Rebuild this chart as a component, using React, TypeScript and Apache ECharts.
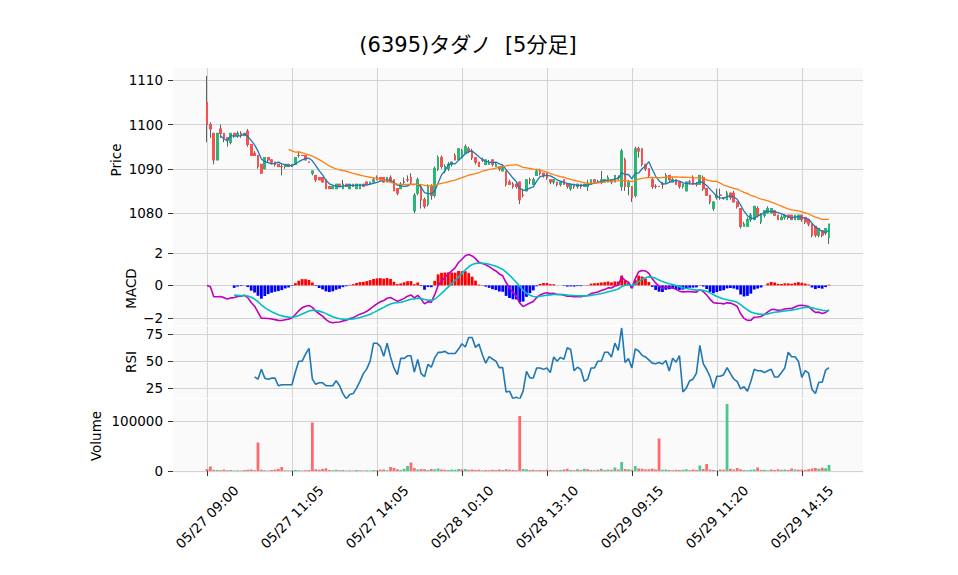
import React, { useEffect, useRef } from "react";
import * as echarts from "echarts";

// ---------- data ----------
const TITLE = "(6395)タダノ  [5分足]";

const sessionDays = ["05/27", "05/27", "05/28", "05/28", "05/29", "05/29"];
const sessionStarts = ["09:00", "12:30", "09:00", "12:30", "09:00", "12:25"];
const sessionBars = [31, 30, 31, 30, 31, 31];

const openP = [
  1105, 1100, 1098, 1092, 1099, 1098, 1097, 1096, 1098, 1097.5,
  1098, 1097.5, 1098.5, 1095.5, 1093.5, 1093, 1091, 1090, 1092.5, 1092,
  1091.5, 1091, 1090.5, 1090.5, 1091, 1090.5, 1091, 1093, 1093, 1093,
  1091.5, 1089, 1088.5, 1088, 1088, 1087.5, 1086, 1085.5, 1085.5, 1086.5,
  1085.5, 1086.5, 1085.5, 1086.5, 1085.5, 1085.5, 1086.5, 1087, 1086.5, 1087,
  1088, 1088, 1088, 1087, 1088, 1087.5, 1085.5, 1085.5, 1087, 1087.5,
  1088, 1080.5, 1084.5, 1086, 1083, 1082, 1086, 1084, 1090, 1092.5,
  1089.5, 1090, 1091, 1093, 1092, 1092.5, 1093.5, 1094.5, 1094, 1092.5,
  1091.5, 1092, 1091, 1091, 1092, 1090.5, 1090.5, 1089.5, 1089.5, 1087,
  1086.5, 1086.5, 1087, 1084, 1085, 1087.5, 1086.5, 1088.5, 1089.5, 1089,
  1089, 1087.5, 1087, 1087, 1086.5, 1087.5, 1086.5, 1085.5, 1086.5, 1086,
  1086.5, 1086, 1086, 1086.5, 1087.5, 1087, 1087, 1087, 1087, 1087.5,
  1087, 1088, 1086, 1092, 1086, 1086, 1084, 1094.5, 1094.5, 1091,
  1090, 1087.5, 1086, 1086, 1086.5, 1087, 1088.5, 1087, 1087.5, 1087,
  1086, 1085, 1087, 1088, 1086.5, 1086.5, 1088, 1085.5, 1084, 1081,
  1083.5, 1084, 1083.5, 1083, 1084.5, 1084.5, 1082.5, 1081, 1077, 1077,
  1078.5, 1078.5, 1081, 1078, 1079.5, 1080, 1080, 1080.5, 1079.5, 1078.5,
  1079, 1079.5, 1079.5, 1078.5, 1078.5, 1079.5, 1079, 1078.5, 1077.5, 1077,
  1075, 1076, 1075.5, 1074.5,
];

const highP = [
  1111, 1100.5, 1098, 1098, 1100, 1098, 1097, 1098, 1098, 1098.5,
  1098.5, 1098, 1099, 1095.5, 1094, 1093, 1091, 1092.5, 1092.5, 1092,
  1091.5, 1091, 1091, 1091, 1091, 1091, 1092.5, 1094, 1093, 1093,
  1091.5, 1089.5, 1088.5, 1088, 1088, 1087.5, 1086, 1086, 1086.5, 1086.5,
  1087.5, 1086.5, 1086.5, 1086.5, 1086.5, 1086.5, 1086.5, 1087, 1087, 1088,
  1088.5, 1088, 1088, 1088, 1088.5, 1087.5, 1085.5, 1087, 1088, 1088.5,
  1089, 1084.5, 1088, 1086.5, 1083.5, 1086.5, 1086.5, 1090.5, 1093, 1093,
  1091, 1091.5, 1091.5, 1093.5, 1094.5, 1094.5, 1095.5, 1095, 1094.5, 1092.5,
  1091.5, 1092.5, 1092, 1092, 1092, 1091.5, 1090.5, 1091, 1089.5, 1087.5,
  1087, 1086.5, 1087, 1085.5, 1087.5, 1088, 1088, 1090, 1090, 1089,
  1089, 1087.5, 1087.5, 1087, 1087, 1087.5, 1086.5, 1086.5, 1086.5, 1086.5,
  1086.5, 1086.5, 1087.5, 1087.5, 1087.5, 1087.5, 1089.5, 1087.5, 1088.5, 1087.5,
  1088.5, 1088.5, 1094.5, 1092.5, 1087.5, 1086, 1095, 1095, 1094.5, 1091,
  1090, 1088, 1086.5, 1086, 1087, 1089, 1088.5, 1088, 1087.5, 1087,
  1086.5, 1087, 1087.5, 1088.5, 1087, 1088.5, 1088.5, 1085.5, 1084, 1082.5,
  1085.5, 1085.5, 1083.5, 1085, 1084.5, 1085, 1082.5, 1081, 1078, 1079,
  1080, 1081.5, 1081.5, 1080, 1080.5, 1081.5, 1081, 1080.5, 1079.5, 1079.5,
  1079.5, 1079.5, 1079.5, 1079.5, 1079.5, 1079.5, 1079, 1078.5, 1077.5, 1077,
  1076.5, 1076, 1076.5, 1077.5,
];

const lowP = [
  1096, 1097, 1091, 1092, 1097, 1096, 1095, 1095.5, 1097, 1097,
  1097, 1097.5, 1095, 1093, 1093, 1090, 1089, 1090, 1091.5, 1091,
  1090.5, 1090.5, 1088.5, 1090, 1090.5, 1090.5, 1091, 1092.5, 1093, 1092,
  1091.5, 1088.5, 1087, 1087.5, 1087, 1085.5, 1085.5, 1085.5, 1085.5, 1086,
  1085.5, 1086, 1085.5, 1086, 1085.5, 1085.5, 1086, 1086.5, 1086.5, 1087,
  1087.5, 1087.5, 1087, 1087, 1087, 1085, 1084, 1085.5, 1086.5, 1087,
  1086.5, 1080, 1084, 1081, 1081, 1081.5, 1083, 1083.5, 1089.5, 1090,
  1089, 1089.5, 1090.5, 1092, 1092, 1092.5, 1093.5, 1093.5, 1092, 1091,
  1090.5, 1091.5, 1091, 1091, 1090.5, 1090.5, 1089.5, 1089.5, 1086, 1086.5,
  1085.5, 1085.5, 1082, 1083.5, 1085, 1086.5, 1086.5, 1088.5, 1088.5, 1088,
  1087.5, 1086.5, 1086.5, 1086, 1086, 1086.5, 1085.5, 1085, 1085.5, 1085.5,
  1085.5, 1086, 1085, 1086.5, 1087, 1087, 1086.5, 1087, 1087, 1086.5,
  1087, 1087.5, 1085, 1085, 1084, 1082.5, 1083.5, 1092.5, 1090.5, 1089.5,
  1088, 1085.5, 1085.5, 1086, 1085.5, 1086.5, 1087, 1087, 1086.5, 1085.5,
  1085.5, 1085, 1086.5, 1086.5, 1086, 1086.5, 1085, 1084, 1082, 1080.5,
  1083, 1083, 1083, 1083, 1083, 1082.5, 1081, 1076.5, 1077, 1077,
  1078, 1078.5, 1079, 1077.5, 1079, 1080, 1080, 1079.5, 1078.5, 1078.5,
  1078.5, 1078.5, 1078.5, 1078.5, 1078.5, 1078, 1077.5, 1077, 1074.5, 1074.5,
  1074.5, 1074.5, 1075, 1073,
];

const closeP = [
  1100, 1099, 1092, 1098, 1098, 1097, 1096.5, 1098, 1097.5, 1098,
  1097.5, 1098, 1095.5, 1093, 1093, 1090.5, 1089, 1092.5, 1092, 1091.5,
  1091, 1090.5, 1090.5, 1091, 1090.5, 1091, 1092.5, 1093, 1093, 1092,
  1091.5, 1089.5, 1087.5, 1087.5, 1087, 1085.5, 1085.5, 1086, 1086.5, 1086,
  1086.5, 1086, 1086.5, 1086, 1086.5, 1086.5, 1086, 1086.5, 1087, 1087.5,
  1087.5, 1087.5, 1087, 1088, 1087, 1085, 1084.5, 1086.5, 1087, 1087.5,
  1087, 1084, 1087.5, 1083, 1081.5, 1086, 1084, 1090, 1092.5, 1090.5,
  1090.5, 1091, 1091.5, 1092, 1094.5, 1094, 1095, 1094, 1092.5, 1091.5,
  1090.5, 1092, 1092, 1091.5, 1091, 1091, 1090, 1090.5, 1086.5, 1086.5,
  1086, 1086, 1083, 1084, 1087.5, 1087.5, 1087.5, 1089.5, 1089, 1088.5,
  1088, 1087, 1087.5, 1086.5, 1087, 1086.5, 1086, 1086.5, 1086, 1086.5,
  1086, 1086.5, 1086.5, 1087.5, 1087, 1087, 1087.5, 1087.5, 1088, 1087,
  1088.5, 1088, 1094, 1086, 1087, 1083.5, 1094.5, 1094, 1091, 1090,
  1088.5, 1086, 1086, 1086, 1086.5, 1088.5, 1087.5, 1087.5, 1086.5, 1086,
  1086.5, 1087, 1087, 1086.5, 1086.5, 1088.5, 1085.5, 1084, 1082.5, 1082.5,
  1084, 1084, 1083.5, 1084.5, 1083.5, 1082.5, 1081.5, 1077, 1077.5, 1078.5,
  1079.5, 1081.5, 1079.5, 1079.5, 1080.5, 1081, 1081, 1079.5, 1078.5, 1079,
  1079.5, 1079, 1078.5, 1079.5, 1079.5, 1078.5, 1078, 1077.5, 1075, 1075,
  1076.5, 1075, 1076.5, 1077.5,
];

const volumeP = [
  4000, 9000, 2500, 2000, 1500, 3000, 1500, 2000, 1000, 1500,
  1000, 2000, 2500, 3000, 1500, 57000, 2500, 1500, 1000, 2000,
  3000, 4000, 8000, 1500, 1000, 1500, 2000, 1500, 1000, 1500,
  2000, 97000, 3500, 2500, 4000, 5500, 2000, 1500, 2500, 1500,
  2000, 1000, 1500, 1000, 2000, 1500, 1000, 1500, 1000, 2000,
  1500, 2500, 3000, 1500, 8000, 6000, 3500, 2000, 4500, 10000,
  17000, 6000, 3000, 4000, 3500, 2000, 4000, 3500, 5000, 3000,
  2500, 2000, 3000, 2500, 4000, 3500, 4000, 2500, 3000, 2000,
  2500, 1500, 2000, 1500, 2500, 2000, 3000, 2000, 3500, 2500,
  2000, 1500, 110000, 4000, 3500, 2000, 2500, 1500, 2000, 1500,
  2500, 2000, 1500, 1500, 2000, 3000, 4500, 2000, 1500, 3500,
  2000, 4500, 3500, 2000, 1500, 2500, 4500, 2000, 3000, 2500,
  7000, 3000, 18000, 4000, 3500, 2500, 10000, 5000, 4500, 3000,
  3500, 4500, 3000, 65000, 2500, 3000, 2000, 1500, 2500, 2000,
  2500, 3500, 1500, 3000, 2000, 11000, 4000, 14000, 3000, 2000,
  1500, 3000, 2500, 134000, 4500, 3000, 6000, 3500, 2000, 1500,
  2500, 3000, 7000, 2000, 2500, 1500, 3000, 2000, 3500, 2500,
  3000, 2000, 5000, 3000, 2500, 3000, 2000, 3500, 5000, 6000,
  4500, 6500, 5500, 12000,
];

const priceTicks = [1080, 1090, 1100, 1110];
const macdTicks = [-2, 0, 2];
const rsiTicks = [25, 50, 75];
const volumeTicks = [0, 100000];

// ---------- styling ----------
const FONT = '"DejaVu Sans", "Liberation Sans", sans-serif';
const TITLE_FONT = '"DejaVu Sans", "Noto Sans CJK JP", sans-serif';
const UP = "#26b874";
const DOWN = "#fc5050";
const WICK = "#606060";
const VUP = "#4dc790";
const VDOWN = "#fd6b6c";
const GRID_C = "#d3d3d3";
const FACE = "#fafafa";
const PAD = 10;
const TICK_EVERY = 25;

// ---------- helpers ----------
function buildCategories(): string[] {
  const out: string[] = [];
  sessionDays.forEach((d, s) => {
    const [h, m] = sessionStarts[s].split(":").map(Number);
    let t = h * 60 + m;
    for (let k = 0; k < sessionBars[s]; k++) {
      const hh = String(Math.floor(t / 60)).padStart(2, "0");
      const mm = String(t % 60).padStart(2, "0");
      out.push(`${d} ${hh}:${mm}`);
      t += 5;
    }
  });
  return out;
}

function rolling(arr: number[], n: number): (number | null)[] {
  return arr.map((_, i) => {
    if (i < n - 1) return null;
    let s = 0;
    for (let j = i - n + 1; j <= i; j++) s += arr[j];
    return s / n;
  });
}

function ema(arr: number[], span: number): number[] {
  const a = 2 / (span + 1);
  const out: number[] = [];
  let prev = arr[0];
  arr.forEach((v, i) => {
    prev = i === 0 ? v : prev + a * (v - prev);
    out.push(prev);
  });
  return out;
}

function rsiCalc(c: number[], n: number): (number | null)[] {
  const out: (number | null)[] = c.map(() => null);
  for (let i = n; i < c.length; i++) {
    let g = 0;
    let l = 0;
    for (let j = i - n + 1; j <= i; j++) {
      const d = c[j] - c[j - 1];
      if (d > 0) g += d;
      else l -= d;
    }
    out[i] = l === 0 ? 100 : 100 - 100 / (1 + g / l);
  }
  return out;
}

function buildOption() {
  const N = closeP.length;
  const cats = buildCategories();
  const xCats = [
    ...Array.from({ length: PAD }, (_, i) => `pre${i}`),
    ...cats,
    ...Array.from({ length: PAD }, (_, i) => `post${i}`),
  ];
  const isTick = (idx: number) => {
    const k = idx - PAD;
    return k >= 0 && k < N && k % TICK_EVERY === 0;
  };

  const ma5 = rolling(closeP, 5);
  const ma25 = rolling(closeP, 25);
  const e12 = ema(closeP, 12);
  const e26 = ema(closeP, 26);
  const macd = e12.map((v, i) => v - e26[i]);
  const signal = ema(macd, 9);
  const rsi = rsiCalc(closeP, 14);

  const pairs = (arr: (number | null)[], from = 0) =>
    arr
      .map((v, i) => (v == null || i < from ? null : [i + PAD, v]))
      .filter((p) => p !== null);

  const panels = [
    { top: 68, height: 184 },
    { top: 252, height: 73 },
    { top: 326, height: 72 },
    { top: 399, height: 74 },
  ];

  const xAxis = panels.map((_, gi) => {
    const bottom = gi === panels.length - 1;
    return {
      type: "category",
      gridIndex: gi,
      data: xCats,
      boundaryGap: false,
      axisLine: { show: false },
      axisTick: {
        show: bottom,
        interval: (i: number) => isTick(i),
        length: 5,
        lineStyle: { color: "#333" },
      },
      axisLabel: bottom
        ? {
            show: true,
            interval: (i: number) => isTick(i),
            rotate: 45,
            align: "center",
            verticalAlign: "middle",
            margin: 44,
            fontSize: 13.5,
            fontFamily: FONT,
            color: "#000",
          }
        : { show: false },
      splitLine: {
        show: true,
        interval: (i: number) => isTick(i),
        lineStyle: { color: GRID_C, width: 1 },
      },
    };
  });

  const yAx = (
    gi: number,
    min: number,
    max: number,
    ticks: number[],
    name: string,
    nameGap: number,
    fmt: (v: number) => string
  ) => ({
    type: "value",
    gridIndex: gi,
    min,
    max,
    axisLine: { show: false },
    axisTick: { show: true, customValues: ticks, length: 5, lineStyle: { color: "#333" } },
    axisLabel: {
      customValues: ticks,
      formatter: fmt,
      margin: 10,
      fontSize: 13.5,
      lineHeight: 12,
      fontFamily: FONT,
      color: "#000",
    },
    splitLine: { show: true, lineStyle: { color: GRID_C, width: 1 } },
    name,
    nameLocation: "middle",
    nameGap,
    nameRotate: 90,
    nameMoveOverlap: false,
    nameTextStyle: { fontSize: 13.5, fontFamily: FONT, color: "#000" },
  });

  const plain = (v: number) => String(v);
  const minus = (v: number) => (v < 0 ? "\u2212" + Math.abs(v) : String(v));

  const candleColor = (i: number) => (closeP[i] > openP[i] ? UP : DOWN);

  const candlesWick = closeP.map((c, i) => ({
    value: [i + PAD, openP[i], c, lowP[i], highP[i]],
    itemStyle: {
      color: candleColor(i),
      color0: candleColor(i),
      borderColor: WICK,
      borderColor0: WICK,
      borderWidth: 1,
    },
  }));
  const candlesBody = closeP.map((c, i) => ({
    value: [i + PAD, openP[i], c, Math.min(openP[i], c), Math.max(openP[i], c)],
    itemStyle: {
      color: candleColor(i),
      color0: candleColor(i),
      borderColor: candleColor(i),
      borderColor0: candleColor(i),
      borderWidth: 1,
    },
  }));

  const vol = volumeP.map((v, i) => ({
    value: [i + PAD, v],
    itemStyle: { color: i > 0 && closeP[i] > closeP[i - 1] ? VUP : VDOWN },
  }));

  const hist = macd
    .map((m, i) =>
      i < 8
        ? null
        : {
            value: [i + PAD, m - signal[i]],
            itemStyle: { color: m - signal[i] >= 0 ? "#ff0000" : "#0000ff" },
          }
    )
    .filter((d) => d !== null);

  return {
    animation: false,
    backgroundColor: "#ffffff",
    graphic: [
      {
        type: "text",
        x: 468,
        y: 45,
        style: {
          text: TITLE,
          fontSize: 21,
          fontFamily: TITLE_FONT,
          fill: "#000",
          align: "center",
          verticalAlign: "middle",
          textAlign: "center",
          textVerticalAlign: "middle",
        },
      },
    ],
    grid: panels.map((p) => ({
      left: 173,
      right: 95,
      top: p.top,
      height: p.height,
      show: true,
      backgroundColor: FACE,
      borderWidth: 0,
      containLabel: false,
      outerBoundsMode: "none",
    })),
    xAxis,
    yAxis: [
      yAx(0, 1071.18, 1112.78, priceTicks, "Price", 50, plain),
      yAx(1, -2.444, 2.06, macdTicks, "MACD", 35, minus),
      yAx(2, 15.9, 82.6, rsiTicks, "RSI", 35, plain),
      yAx(3, -4000, 144000, volumeTicks, "Volume", 70, plain),
    ],
    series: [
      {
        type: "candlestick",
        xAxisIndex: 0,
        yAxisIndex: 0,
        barWidth: 2.2,
        encode: { x: 0, y: [1, 2, 3, 4] },
        data: candlesWick,
      },
      {
        type: "candlestick",
        xAxisIndex: 0,
        yAxisIndex: 0,
        barWidth: 2.2,
        encode: { x: 0, y: [1, 2, 3, 4] },
        data: candlesBody,
      },
      {
        type: "line",
        xAxisIndex: 0,
        yAxisIndex: 0,
        data: pairs(ma5),
        showSymbol: false,
        symbol: "none",
        lineStyle: { width: 1.3, color: "#1f77b4" },
        itemStyle: { color: "#1f77b4" },
        z: 5,
      },
      {
        type: "line",
        xAxisIndex: 0,
        yAxisIndex: 0,
        data: pairs(ma25),
        showSymbol: false,
        symbol: "none",
        lineStyle: { width: 1.3, color: "#ff7f0e" },
        itemStyle: { color: "#ff7f0e" },
        z: 5,
      },
      {
        type: "bar",
        xAxisIndex: 1,
        yAxisIndex: 1,
        barWidth: 2.8,
        data: hist,
      },
      {
        type: "line",
        xAxisIndex: 1,
        yAxisIndex: 1,
        data: pairs(macd),
        showSymbol: false,
        symbol: "none",
        lineStyle: { width: 1.6, color: "#bf00bf" },
        itemStyle: { color: "#bf00bf" },
        z: 5,
      },
      {
        type: "line",
        xAxisIndex: 1,
        yAxisIndex: 1,
        data: pairs(signal, 8),
        showSymbol: false,
        symbol: "none",
        lineStyle: { width: 1.6, color: "#00bfbf" },
        itemStyle: { color: "#00bfbf" },
        z: 5,
      },
      {
        type: "line",
        xAxisIndex: 2,
        yAxisIndex: 2,
        data: pairs(rsi),
        showSymbol: false,
        symbol: "none",
        lineStyle: { width: 1.6, color: "#1f77b4" },
        itemStyle: { color: "#1f77b4" },
        z: 5,
      },
      {
        type: "bar",
        xAxisIndex: 3,
        yAxisIndex: 3,
        barWidth: 2.8,
        data: vol,
      },
    ],
  };
}

export default function App() {
  const ref = useRef<HTMLDivElement>(null);
  useEffect(() => {
    if (!ref.current) return;
    const chart = echarts.init(ref.current, null, { renderer: "svg" });
    chart.setOption(buildOption() as any);
    return () => chart.dispose();
  }, []);
  return (
    <div
      ref={ref}
      style={{ position: "fixed", left: 0, top: 0, width: 958, height: 575, background: "#fff" }}
    />
  );
}
